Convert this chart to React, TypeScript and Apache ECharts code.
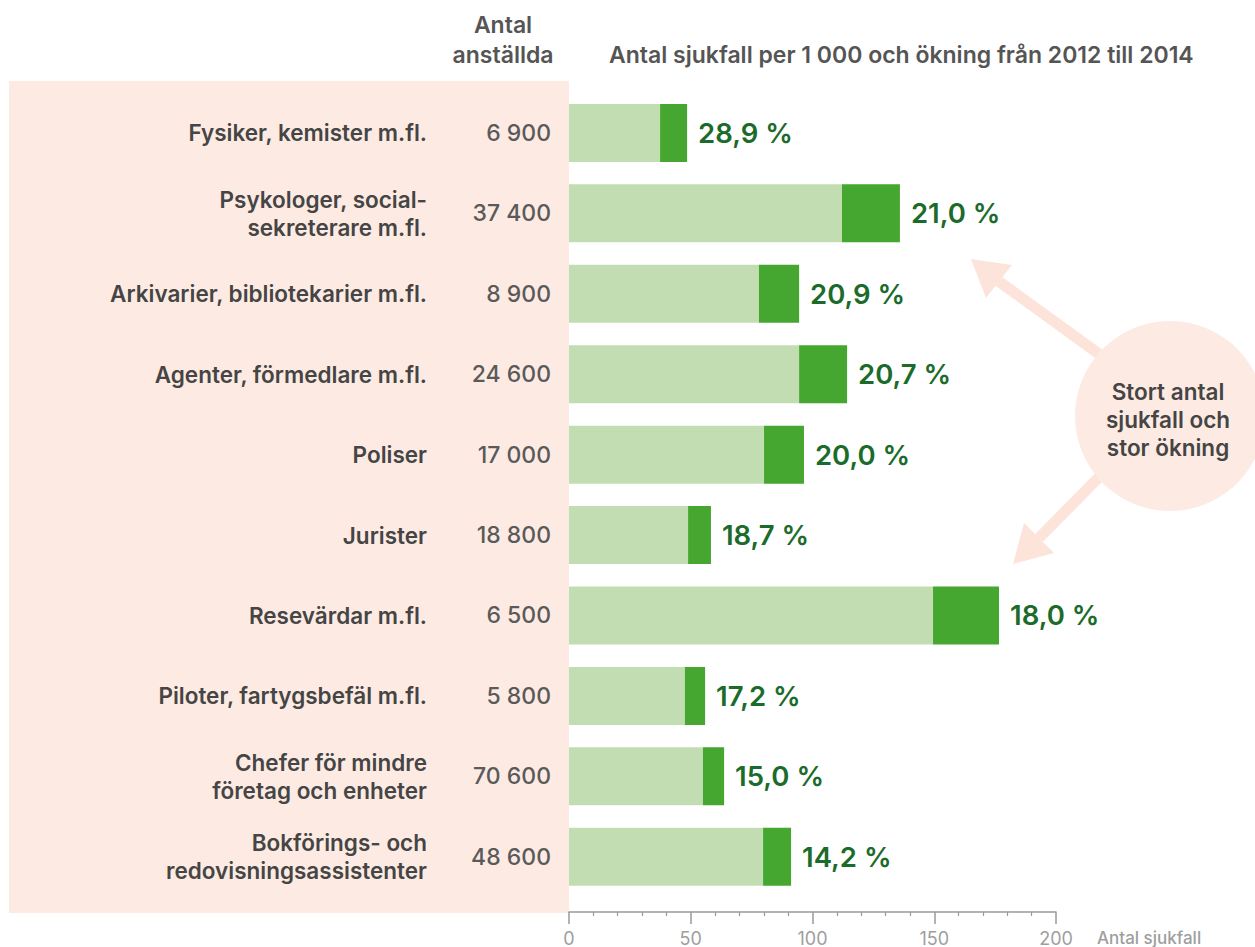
import React, { useEffect, useRef } from "react";
import * as echarts from "echarts";

const categories = [
  "Fysiker, kemister m.fl.",
  "Psykologer, social-\nsekreterare m.fl.",
  "Arkivarier, bibliotekarier m.fl.",
  "Agenter, förmedlare m.fl.",
  "Poliser",
  "Jurister",
  "Resevärdar m.fl.",
  "Piloter, fartygsbefäl m.fl.",
  "Chefer för mindre\nföretag och enheter",
  "Bokförings- och\nredovisningsassistenter",
];
const employees = ["6 900", "37 400", "8 900", "24 600", "17 000", "18 800", "6 500", "5 800", "70 600", "48 600"];
const cases2012 = [37.4, 112.1, 78.0, 94.5, 80.1, 48.9, 149.5, 47.6, 55.0, 79.7];
const cases2014 = [48.5, 135.9, 94.5, 114.2, 96.5, 58.3, 176.6, 55.9, 63.7, 91.2];
const increaseLabels = ["28,9 %", "21,0 %", "20,9 %", "20,7 %", "20,0 %", "18,7 %", "18,0 %", "17,2 %", "15,0 %", "14,2 %"];
const xTicks = [0, 50, 100, 150, 200];

const FONT = "Inter, 'Liberation Sans', Arial, sans-serif";
const TEXT = "#454545";
const PINK = "#fdebe3";
const PINK_ARROW = "#fce4da";

export default function App() {
  const ref = useRef<HTMLDivElement>(null);
  useEffect(() => {
    if (!ref.current) return;
    const chart = echarts.init(ref.current, undefined, { renderer: "svg" });
    const increase = cases2014.map((v, i) => +(v - cases2012[i]).toFixed(1));
    chart.setOption({
      animation: false,
      textStyle: { fontFamily: FONT },
      grid: { left: 569, width: 487, top: 92.7, height: 805.6, containLabel: false },
      xAxis: {
        type: "value",
        min: xTicks[0],
        max: xTicks[xTicks.length - 1],
        interval: 50,
        position: "bottom",
        offset: 15,
        axisLine: { show: true, lineStyle: { color: "#9a9a9a", width: 1.5 } },
        axisTick: { show: true, length: 12, lineStyle: { color: "#9a9a9a", width: 1.5 } },
        minorTick: { show: true, splitNumber: 5, length: 4, lineStyle: { color: "#9a9a9a", width: 1.2 } },
        splitLine: { show: false },
        axisLabel: { color: "#9e9e9e", fontSize: 18, margin: 17, fontFamily: FONT },
      },
      yAxis: [
        {
          type: "category",
          inverse: true,
          data: categories,
          position: "left",
          axisLine: { show: false },
          axisTick: { show: false },
          axisLabel: {
            margin: 142,
            color: TEXT,
            fontSize: 22.5,
            fontWeight: 600,
            lineHeight: 28,
            align: "right",
            fontFamily: FONT,
          },
        },
        {
          type: "category",
          inverse: true,
          data: categories,
          position: "left",
          axisLine: { show: false },
          axisTick: { show: false },
          axisLabel: {
            margin: 18,
            color: "#5a5a5a",
            fontSize: 23,
            fontWeight: 500,
            align: "right",
            fontFamily: FONT,
            formatter: (_v: string, i: number) => employees[i],
          },
        },
      ],
      series: [
        {
          type: "bar",
          stack: "a",
          yAxisIndex: 0,
          data: cases2012,
          barWidth: 58,
          itemStyle: { color: "#c3ddb3" },
        },
        {
          type: "bar",
          stack: "a",
          yAxisIndex: 0,
          data: increase,
          barWidth: 58,
          itemStyle: { color: "#45a630" },
          label: {
            show: true,
            position: "right",
            distance: 11,
            color: "#1b6b2b",
            fontSize: 27.5,
            fontWeight: 600,
            fontFamily: FONT,
            formatter: (p: any) => increaseLabels[p.dataIndex],
          },
        },
      ],
      graphic: [
        { type: "rect", z: -10, shape: { x: 9, y: 81, width: 560, height: 832 }, style: { fill: PINK } },
        {
          type: "text",
          x: 503,
          y: 25,
          style: { text: "Antal", font: `600 23px ${FONT}`, fill: "#555", align: "center", verticalAlign: "middle" },
        },
        {
          type: "text",
          x: 503,
          y: 55,
          style: { text: "anställda", font: `600 23px ${FONT}`, fill: "#555", align: "center", verticalAlign: "middle" },
        },
        {
          type: "text",
          x: 609,
          y: 55,
          style: {
            text: "Antal sjukfall per 1 000 och ökning från 2012 till 2014",
            font: `600 23px ${FONT}`,
            fill: "#555",
            align: "left",
            verticalAlign: "middle",
          },
        },
        {
          type: "text",
          x: 1097,
          y: 938,
          style: { text: "Antal sjukfall", font: `500 17px ${FONT}`, fill: "#9e9e9e", align: "left", verticalAlign: "middle" },
        },
        // arrows
        { type: "line", shape: { x1: 1110, y1: 362, x2: 997, y2: 280 }, style: { stroke: PINK_ARROW, lineWidth: 11 } },
        { type: "polygon", shape: { points: [[971, 259], [1012, 265], [986, 298]] }, style: { fill: PINK_ARROW } },
        { type: "line", shape: { x1: 1110, y1: 466, x2: 1039, y2: 538 }, style: { stroke: PINK_ARROW, lineWidth: 11 } },
        { type: "polygon", shape: { points: [[1013, 564], [1024, 523], [1054, 553]] }, style: { fill: PINK_ARROW } },
        { type: "circle", shape: { cx: 1170, cy: 416, r: 95 }, style: { fill: PINK } },
        {
          type: "text",
          x: 1168,
          y: 419,
          style: {
            text: "Stort antal\nsjukfall och\nstor ökning",
            font: `600 22.5px ${FONT}`,
            lineHeight: 28,
            fill: TEXT,
            align: "center",
            verticalAlign: "middle",
          },
        },
      ],
    });
    return () => chart.dispose();
  }, []);
  return <div ref={ref} style={{ width: 1255, height: 947, position: "absolute", left: 0, top: 0 }} />;
}
